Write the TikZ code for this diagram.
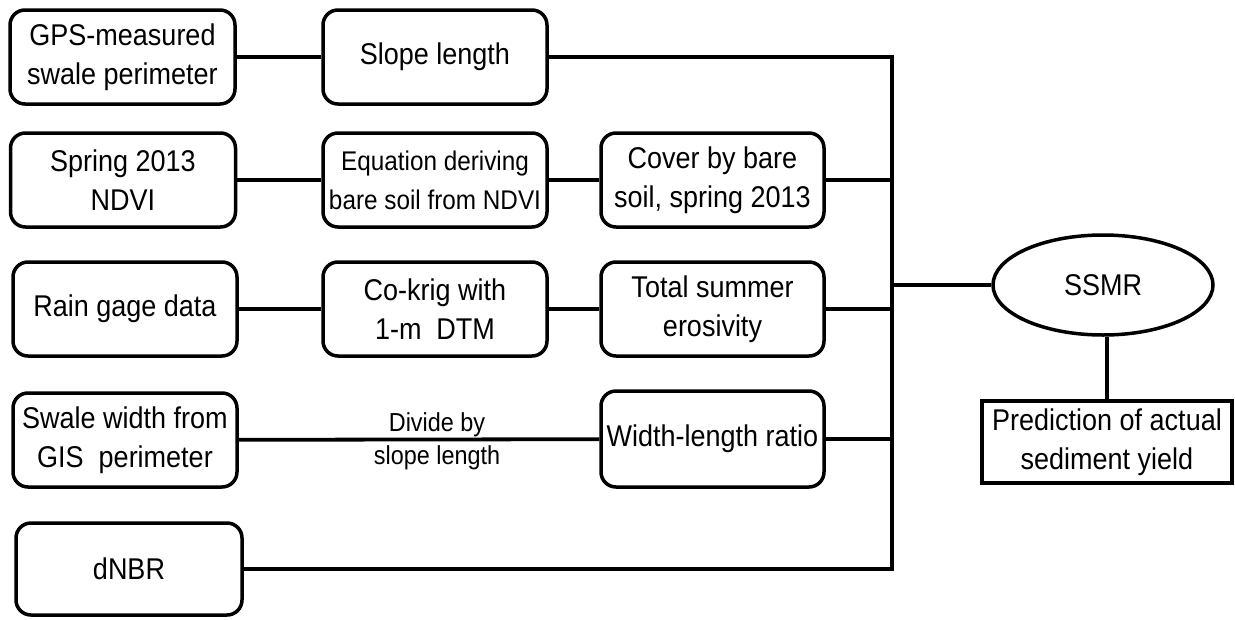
\documentclass[tikz,border=0pt]{standalone}
\usepackage{fontspec}
\setmainfont[FakeStretch=0.9]{Liberation Sans}
\usetikzlibrary{shapes.geometric}
\begin{document}
\begin{tikzpicture}[x=1pt,y=-1pt,
  every node/.style={font=\fontsize{30}{39}\selectfont, align=center, inner sep=0pt},
  rbox/.style={draw, line width=3.5pt, rounded corners=15pt, minimum width=#1, minimum height=94pt},
  rbox/.default=224pt,
  conn/.style={line width=3.8pt},
  small/.style={font=\fontsize{26}{34}\selectfont}]
\useasboundingbox (0,0) rectangle (1235,619);
% column 1
\node[rbox=225pt] (gps) at (122.5,57) {GPS-measured\\swale perimeter};
\node[rbox=225pt] (spring) at (123,180) {Spring 2013\\NDVI};
\node[rbox=224pt] (rain) at (125,309) {Rain gage data};
\node[rbox=224pt] (swale) at (125,440) {Swale width from\\GIS\ \ perimeter};
\node[rbox=226pt, minimum height=92pt] (dnbr) at (129,569) {dNBR};
% column 2
\node[rbox] (slope) at (435,57) {Slope length};
\node[rbox] (eq) at (435,180) {\fontsize{27}{39}\selectfont Equation deriving\\\fontsize{27}{39}\selectfont bare soil from NDVI};
\node[rbox] (cokrig) at (435,309) {Co-krig with\\1-m\ \ DTM};
% column 3
\node[rbox=223pt] (cover) at (712.5,180) {Cover by bare\\soil, spring 2013};
\node[rbox=223pt] (total) at (712.5,309) {Total summer\\erosivity};
\node[rbox=223pt, minimum height=96pt] (width) at (712.5,439) {Width-length ratio};
% right side
\node[draw, ellipse, line width=3.5pt, minimum width=220pt, minimum height=100pt] (ssmr) at (1103,285) {SSMR};
\node[draw, rectangle, line width=3.8pt, minimum width=250pt, minimum height=82pt] (pred) at (1107,442) {Prediction of actual\\sediment yield};
% bus
\coordinate (busT) at (892,57);
\coordinate (busB) at (892,569);
% connectors
\draw[conn] (gps) -- (slope);
\draw[conn] (slope.east) -- (busT) -- (busB) -- (dnbr.east);
\draw[conn] (spring) -- (eq);
\draw[conn] (eq) -- (cover);
\draw[conn] (cover.east) -- (cover.east -| busT);
\draw[conn] (rain) -- (cokrig);
\draw[conn] (cokrig) -- (total);
\draw[conn] (total.east) -- (total.east -| busT);
\draw[conn] (swale) -- node[pos=0.55, small, above=1pt] {Divide by} node[pos=0.55, small, below=4pt] {slope length} (width);
\draw[conn] (width.east) -- (width.east -| busT);
\draw[conn] (ssmr.west) -- (ssmr.west -| busT);
\draw[conn] (pred.north) -- (pred.north |- ssmr.south);
\end{tikzpicture}
\end{document}
